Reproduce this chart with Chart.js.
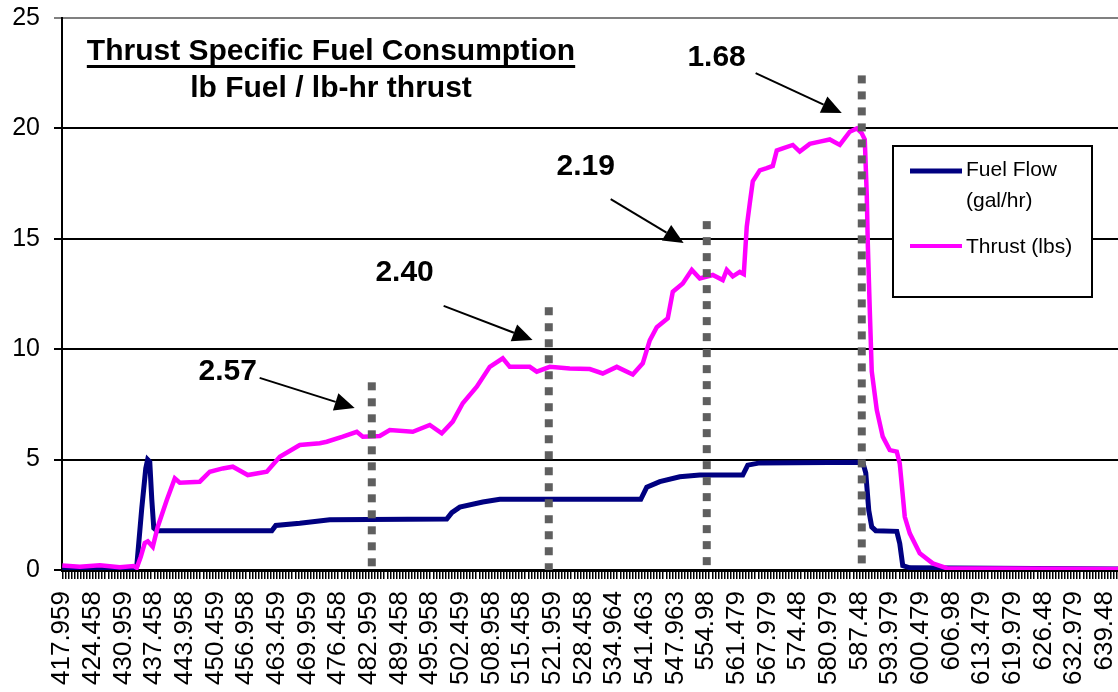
<!DOCTYPE html>
<html>
<head>
<meta charset="utf-8">
<title>Thrust Specific Fuel Consumption</title>
<script src="https://cdn.jsdelivr.net/npm/chart.js@4.4.1/dist/chart.umd.min.js"></script>
<style>
  html, body { margin: 0; padding: 0; background: #fff; }
  #wrap { width: 1118px; height: 692px; position: relative; }
</style>
</head>
<body>
<div id="wrap"><canvas id="tsfcChart"></canvas></div>
<script>
// category labels shown under the x axis (evenly spaced in the original sheet)
const xLabels = ['417.959', '424.458', '430.959', '437.458', '443.958', '450.459', '456.958',
  '463.459', '469.959', '476.458', '482.959', '489.458', '495.958', '502.459', '508.958',
  '515.458', '521.959', '528.458', '534.964', '541.463', '547.963', '554.98', '561.479',
  '567.979', '574.48', '580.979', '587.48', '593.979', '600.479', '606.98', '613.479',
  '619.979', '626.48', '632.979', '639.48'];

// Fuel Flow (gal/hr)
const fuelTime = [417.96, 433.40, 433.80, 434.85, 435.70, 436.10, 436.55, 436.98, 437.40, 438.04,
  462.48, 463.33, 468.43, 474.80, 499.66, 500.73, 502.43, 507.31, 510.93, 540.89, 542.16,
  544.93, 549.17, 553.43, 562.56, 563.62, 566.18, 588.06, 588.70, 589.34, 589.97, 590.82,
  595.29, 595.92, 596.56, 598.05, 642.30];
const fuelFlow = [0.08, 0.08, 0.2, 2.8, 4.6, 5.0, 4.9, 3.2, 1.9, 1.78,
  1.78, 2.02, 2.12, 2.28, 2.31, 2.6, 2.85, 3.08, 3.2, 3.2, 3.75,
  4.0, 4.22, 4.3, 4.3, 4.75, 4.85, 4.88, 4.4, 2.7, 1.95, 1.78,
  1.75, 1.2, 0.2, 0.1, 0.05];

// Thrust (lbs)
const thrustTime = [417.96, 421.68, 425.93, 430.18, 433.15, 433.79, 434.64, 435.49, 436.13, 437.19,
  438.25, 440.17, 441.87, 442.93, 447.18, 449.30, 452.07, 454.19, 457.38, 461.42,
  464.18, 468.43, 472.68, 474.16, 477.57, 480.54, 481.82, 485.43, 487.55, 492.44,
  496.05, 498.60, 500.94, 503.06, 506.04, 508.80, 511.56, 513.05, 517.30, 518.79,
  521.55, 525.80, 530.05, 532.81, 535.79, 539.19, 541.31, 542.80, 544.29, 546.63,
  547.69, 549.81, 551.73, 553.43, 556.19, 558.31, 559.16, 560.44, 561.93, 562.78,
  563.41, 564.05, 564.69, 566.18, 567.66, 568.94, 569.79, 571.06, 573.19, 574.67,
  576.80, 578.93, 581.05, 583.18, 585.30, 586.79, 587.85, 588.49, 588.91, 589.13,
  589.55, 589.97, 591.04, 592.31, 593.80, 595.29, 595.92, 596.99, 598.05, 600.17,
  602.94, 605.91, 642.30];
const thrust = [0.2, 0.15, 0.22, 0.12, 0.18, 0.1, 0.6, 1.22, 1.3, 1.05,
  1.96, 3.17, 4.15, 3.95, 4.0, 4.45, 4.6, 4.68, 4.3, 4.45,
  5.13, 5.66, 5.74, 5.81, 6.04, 6.26, 6.04, 6.07, 6.34, 6.26,
  6.57, 6.19, 6.72, 7.55, 8.3, 9.2, 9.59, 9.2, 9.2, 8.98,
  9.2, 9.13, 9.1, 8.9, 9.2, 8.85, 9.36, 10.4, 11.0, 11.4,
  12.6, 12.98, 13.59, 13.2, 13.36, 13.13, 13.59, 13.3, 13.5, 13.4,
  15.55, 16.6, 17.6, 18.1, 18.2, 18.3, 19.0, 19.1, 19.25, 18.95,
  19.3, 19.4, 19.5, 19.25, 19.85, 20.0, 19.78, 19.5, 17.0, 14.8,
  11.8, 9.0, 7.25, 6.04, 5.43, 5.36, 4.83, 2.41, 1.66, 0.76,
  0.3, 0.08, 0.05];

const markerTimes = [483.73, 521.34, 554.91, 587.85];
const markerTops = [8.5, 11.9, 15.8, 22.4];
const tsfcLabels = ['2.57', '2.40', '2.19', '1.68'];

// callout text / arrow placement, in axis units
const callouts = [
  { text: [453.1, 8.97], from: [459.9, 8.70], to: [480.1, 7.34] },
  { text: [490.7, 13.45], from: [499.0, 11.96], to: [517.9, 10.42] },
  { text: [529.2, 18.25], from: [534.5, 16.8], to: [550.0, 14.81] },
  { text: [557.0, 23.19], from: [565.3, 22.5], to: [583.6, 20.7] }
];

const FONT = '"Liberation Sans", Arial, sans-serif';
const xMin = 417.9, xMax = 642.3;
const majorStep = (639.48 - 417.959) / (xLabels.length - 1);
const minorPerMajor = 10;

const tickValues = [];
for (let k = 0; 417.959 + k * majorStep / minorPerMajor <= xMax; k++) {
  tickValues.push(417.959 + k * majorStep / minorPerMajor);
}

const toPoints = (xs, ys) => xs.map((t, i) => ({ x: t, y: ys[i] }));

const markerSets = markerTimes.map((t, i) => ({
  label: 'marker' + i,
  data: [{ x: t, y: markerTops[i] }, { x: t, y: 0 }],
  borderColor: '#5f5f5f',
  borderWidth: 8,
  borderDash: [8, 8],
  borderCapStyle: 'butt',
  pointRadius: 0,
  order: 0
}));

const titlePlugin = {
  id: 'chartTitle',
  afterDatasetsDraw(chart) {
    const { ctx, scales: { x, y } } = chart;
    ctx.save();

    // title block
    ctx.fillStyle = '#000';
    ctx.textAlign = 'center';
    ctx.textBaseline = 'middle';
    ctx.font = 'bold 30px ' + FONT;
    const line1 = 'Thrust Specific Fuel Consumption';
    ctx.fillText(line1, 331, 52);
    const w = ctx.measureText(line1).width;
    ctx.fillRect(331 - w / 2, 65, w, 3);
    ctx.fillText('lb Fuel / lb-hr thrust', 331, 89);

    // TSFC callouts with arrows
    callouts.forEach((c, i) => {
      ctx.fillText(tsfcLabels[i], x.getPixelForValue(c.text[0]), y.getPixelForValue(c.text[1]));
      const x0 = x.getPixelForValue(c.from[0]), y0 = y.getPixelForValue(c.from[1]);
      const x1 = x.getPixelForValue(c.to[0]), y1 = y.getPixelForValue(c.to[1]);
      const a = Math.atan2(y1 - y0, x1 - x0);
      const head = 20, half = 9;
      const bx = x1 - head * Math.cos(a), by = y1 - head * Math.sin(a);
      ctx.strokeStyle = '#000';
      ctx.lineWidth = 2;
      ctx.beginPath();
      ctx.moveTo(x0, y0);
      ctx.lineTo(bx, by);
      ctx.stroke();
      ctx.beginPath();
      ctx.moveTo(x1, y1);
      ctx.lineTo(bx + half * Math.sin(a), by - half * Math.cos(a));
      ctx.lineTo(bx - half * Math.sin(a), by + half * Math.cos(a));
      ctx.closePath();
      ctx.fill();
    });

    // legend box
    const bx0 = 893, by0 = 146, bw = 199, bh = 151;
    ctx.fillStyle = '#fff';
    ctx.fillRect(bx0, by0, bw, bh);
    ctx.strokeStyle = '#000';
    ctx.lineWidth = 2;
    ctx.strokeRect(bx0, by0, bw, bh);

    const fuelDs = chart.data.datasets.find(d => d.label === 'Fuel Flow');
    const thrustDs = chart.data.datasets.find(d => d.label === 'Thrust (lbs)');
    ctx.lineWidth = 5;
    ctx.strokeStyle = fuelDs.borderColor;
    ctx.beginPath(); ctx.moveTo(910, 171); ctx.lineTo(962, 171); ctx.stroke();
    ctx.lineWidth = 4;
    ctx.strokeStyle = thrustDs.borderColor;
    ctx.beginPath(); ctx.moveTo(910, 246); ctx.lineTo(962, 246); ctx.stroke();

    ctx.fillStyle = '#000';
    ctx.textAlign = 'left';
    ctx.font = '21px ' + FONT;
    ctx.fillText('Fuel Flow', 966, 170);
    ctx.fillText('(gal/hr)', 966, 201);
    ctx.fillText('Thrust (lbs)', 966, 247);
    ctx.restore();
  }
};

new Chart(document.getElementById('tsfcChart'), {
  type: 'line',
  data: {
    datasets: [
      ...markerSets,
      {
        label: 'Thrust (lbs)',
        data: toPoints(thrustTime, thrust),
        borderColor: '#ff00ff',
        borderWidth: 4.5,
        pointRadius: 0,
        tension: 0,
        order: 1
      },
      {
        label: 'Fuel Flow',
        data: toPoints(fuelTime, fuelFlow),
        borderColor: '#000080',
        borderWidth: 5,
        pointRadius: 0,
        tension: 0,
        order: 2
      }
    ]
  },
  options: {
    responsive: true,
    maintainAspectRatio: false,
    animation: false,
    layout: { padding: { top: 18, right: 0, left: 0, bottom: 0 } },
    plugins: {
      legend: { display: false },
      tooltip: { enabled: false }
    },
    scales: {
      x: {
        type: 'linear',
        min: xMin,
        max: xMax,
        afterBuildTicks: s => { s.ticks = tickValues.map(v => ({ value: v })); },
        afterFit: s => { s.height = 122; s.paddingLeft = 0; s.paddingRight = 0; },
        ticks: {
          autoSkip: false,
          minRotation: 90,
          maxRotation: 90,
          padding: 12,
          color: '#000',
          font: { family: FONT, size: 26 },
          callback: (v, i) => (i % minorPerMajor === 0 ? xLabels[i / minorPerMajor] : '')
        },
        grid: { drawOnChartArea: false, color: '#000', lineWidth: 1.5, tickLength: 9 },
        border: { color: '#000', width: 3 }
      },
      y: {
        min: 0,
        max: 25,
        afterFit: s => { s.width = 62; s.paddingTop = 0; s.paddingBottom = 0; },
        ticks: {
          stepSize: 5,
          padding: 14,
          color: '#000',
          font: { family: FONT, size: 25 }
        },
        grid: {
          color: c => (c.tick && c.tick.value === 25 ? '#808080' : '#000'),
          lineWidth: 2,
          tickLength: 8
        },
        border: { color: '#000', width: 2 }
      }
    }
  },
  plugins: [titlePlugin]
});
</script>
</body>
</html>
